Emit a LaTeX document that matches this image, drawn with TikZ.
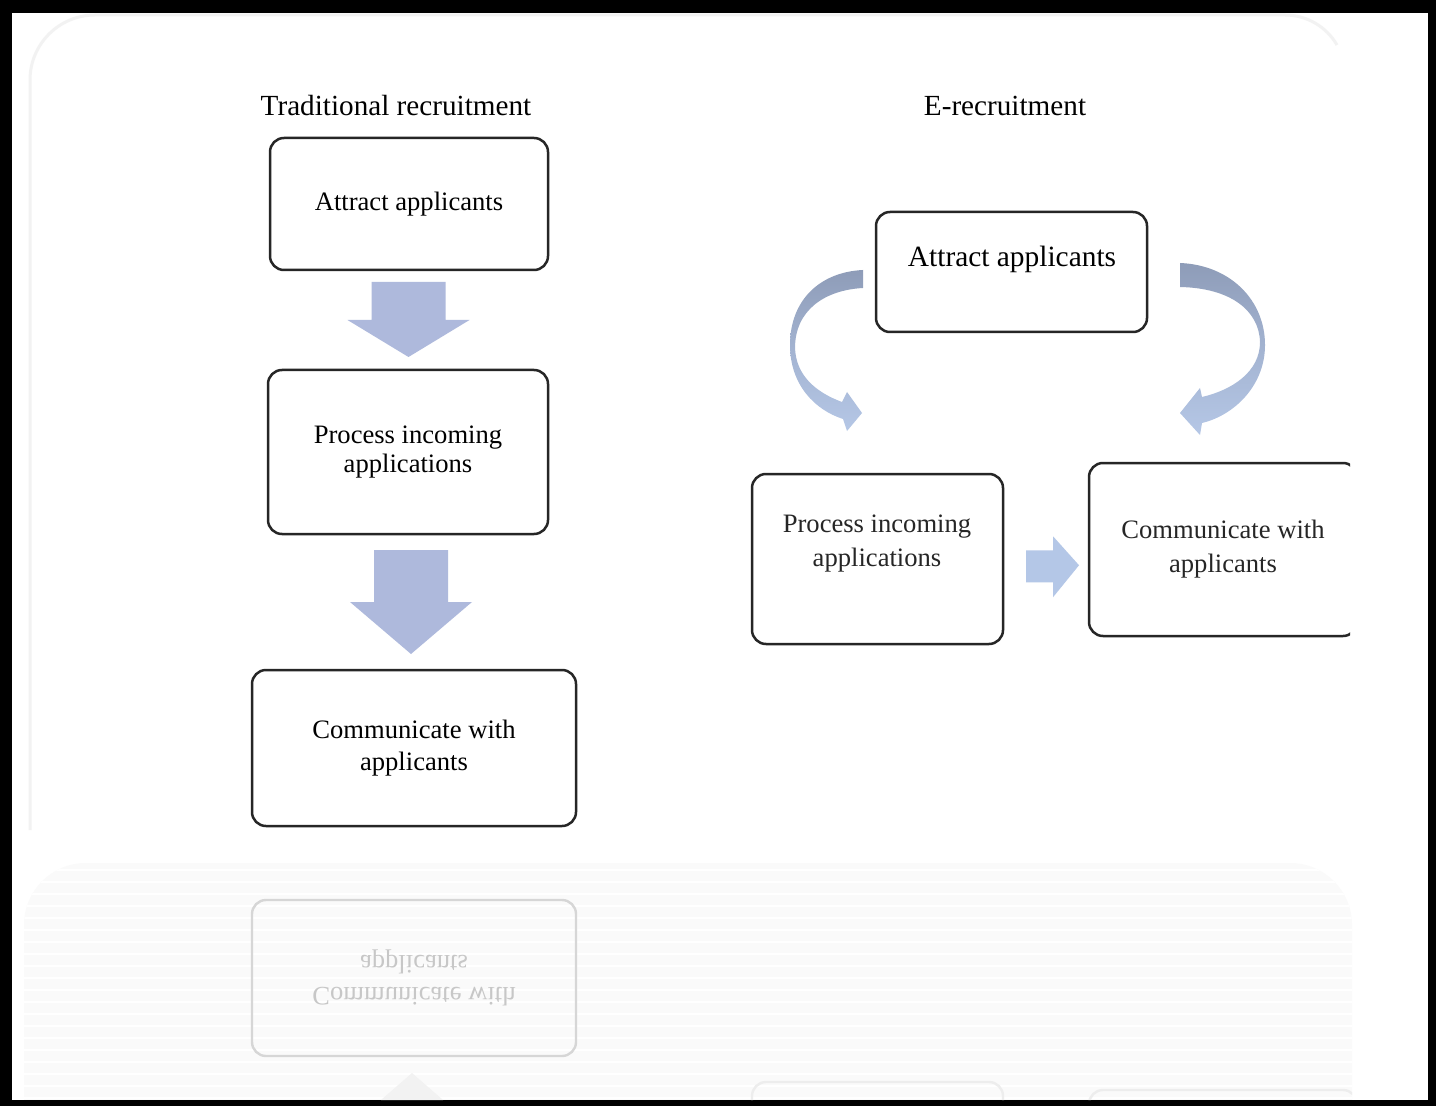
\documentclass[tikz,border=0pt]{standalone}
\usepackage{fontspec}
\setmainfont{Liberation Serif}
\usetikzlibrary{calc}
\definecolor{downblue}{RGB}{174,185,220}
\definecolor{sideblue}{RGB}{180,199,231}
\definecolor{curvetop}{RGB}{142,156,184}
\definecolor{curvebot}{RGB}{181,199,230}
\newcommand\blockdown[3]{\fill[downblue] (#1) ++(-37,-#2) -- ++(74,0) -- ++(0,#2) -- ++(24,0) -- ++(-61,#3) -- ++(-61,-#3) -- ++(24,0) -- cycle;}
\begin{document}
\begin{tikzpicture}[x=0.5pt,y=-0.5pt,
	stage/.style={draw=black!85,line width=1.25pt,rounded corners=7pt,fill=white,inner sep=0pt,align=center},
	ghost/.style={draw=black!16,line width=1.2pt,rounded corners=7pt},
	txt/.style={font=\fontsize{13.3}{#1}\selectfont,align=center,inner sep=0pt},
	title/.style={font=\fontsize{14.6}{17}\selectfont,inner sep=0pt},
	curve/.style={top color=curvetop,bottom color=curvebot,middle color=curvetop!45!curvebot}]
	\useasboundingbox (0,0) rectangle (1443,1106);
	\fill[black] (0,0) rectangle (1436,1106);
	\fill[white] (12,13) rectangle (1428,1100);
	% faint panel behind the chart
	\draw[black!5,line width=1.5] (30,830) -- (30,80) arc[start angle=180,end angle=270,radius=65] -- (1285,15) arc[start angle=270,end angle=330,radius=60];
	% mirror strip
	\begin{scope}
		\clip (24,1100) -- (24,925) arc[start angle=180,end angle=270,radius=62] -- (1290,863) arc[start angle=270,end angle=360,radius=62] -- (1352,1100) -- cycle;
		\fill[black!2] (0,850) rectangle (1400,1100);
		\foreach \y in {870,882,...,1098} \draw[white,line width=1.2] (0,\y) -- (1400,\y);
		\node[ghost,minimum width=162pt,minimum height=78pt] (C1m) at (414,978) {};
		\begin{scope}[shift={(414,978)},yscale=-1]
			\node[txt=16,text=black!22,transform shape] (C1mtext) at (0,0) {Communicate with\\applicants};
		\end{scope}
		\fill[black!5] (381,1100) -- (412,1073) -- (443,1100) -- cycle;
		\node[ghost,draw=black!7,minimum width=125.5pt,minimum height=85pt] (P2m) at (877.5,1167) {};
		\node[ghost,draw=black!7,minimum width=134pt,minimum height=86.5pt] (C2m) at (1223,1176.5) {};
	\end{scope}
	% traditional
	\node[title] (trad) at (396,106) {Traditional recruitment};
	\node[stage,minimum width=139pt,minimum height=66pt,txt=15] (A1) at (409,204) {Attract applicants};
	\node[stage,minimum width=140pt,minimum height=82pt,txt=14.5] (P1) at (408,452) {Process incoming\\applications};
	\node[stage,minimum width=162pt,minimum height=78pt,txt=16] (C1) at (414,748) {Communicate with\\applicants};
	\path ($(A1.south)!0.5!(P1.north)$) coordinate (m1) ($(P1.south)!0.5!(C1.north)$) coordinate (m2);
	\blockdown{m1}{38}{37}
	\blockdown{m2}{52}{52}
	% e-recruitment
	\node[title] (erec) at (1005,106) {E-recruitment};
	\node[stage,minimum width=135.5pt,minimum height=60pt] (A2) at (1011.5,272) {};
	\node[font=\fontsize{14.7}{17}\selectfont,inner sep=0pt] (A2text) at (1012,259) {Attract applicants};
	\node[stage,minimum width=125.5pt,minimum height=85pt] (P2) at (877.5,559) {};
	\node[txt=17,text=black!85] (P2text) at (877,544) {Process incoming\\applications};
	\begin{scope}
		\clip (0,0) rectangle (1350,1106);
		\node[stage,minimum width=134pt,minimum height=86.5pt,txt=17,text=black!85] (C2) at (1223,549.5) {Communicate with\\applicants};
	\end{scope}
	\path ($(P2.east)!0.5!(C2.west)$) ++(7,12) coordinate (m3);
	\fill[sideblue] (m3) ++(-27,-16) -- ++(27,0) -- ++(0,-14) -- ++(26,29) -- ++(-26,32) -- ++(0,-15) -- ++(-27,0) -- cycle;
	\shade[curve] (863,270) .. controls (820,272) and (790,300) .. (790,345) .. controls (790,385) and (815,410) .. (843,419) -- (847,431) -- (862,413) -- (847,392) -- (842,402) .. controls (815,392) and (796,375) .. (795,348) .. controls (795,310) and (825,290) .. (863,288) -- cycle;
	\shade[curve] (1180,263) .. controls (1230,265) and (1265,300) .. (1265,345) .. controls (1265,385) and (1235,415) .. (1202,423) -- (1200,435) -- (1180,413) -- (1200,388) -- (1202,397) .. controls (1232,390) and (1260,372) .. (1260,342) .. controls (1259,310) and (1230,288) .. (1180,287) -- cycle;
\end{tikzpicture}
\end{document}
